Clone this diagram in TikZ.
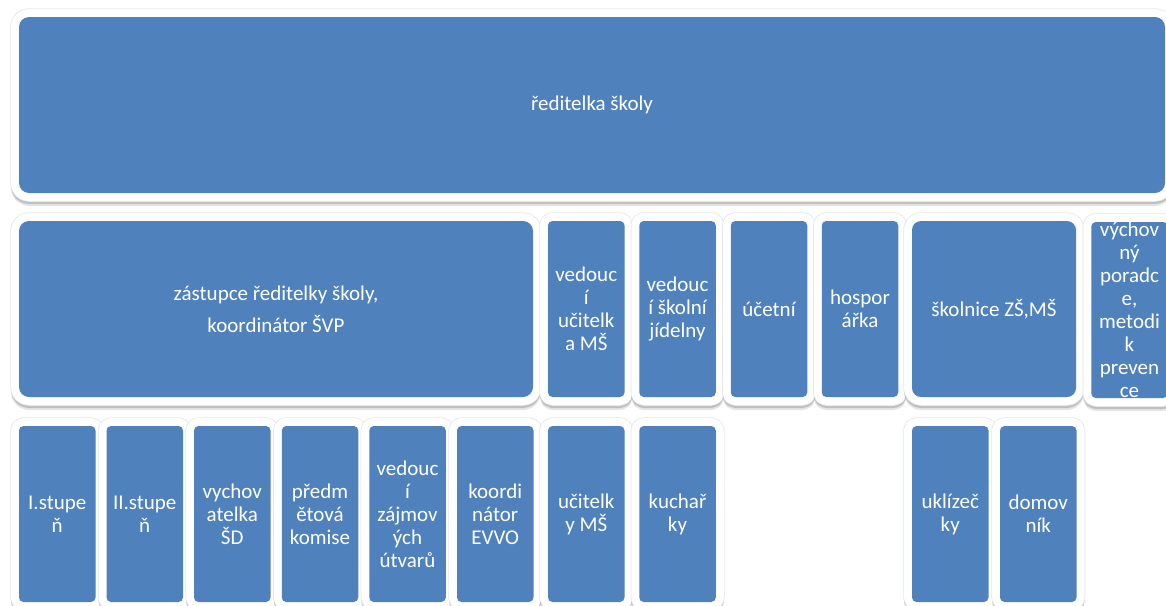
\documentclass[tikz,border=0pt]{standalone}
\usepackage{fontspec}
\setmainfont{Carlito}
\definecolor{boxblue}{RGB}{79,129,189}
\tikzset{
  orgbox/.style={rectangle, fill=boxblue, text=white, align=center, inner sep=0pt,
    font=\fontsize{21}{23}\selectfont, line join=round,
    preaction={draw=black, draw opacity=0.10, line width=16pt, transform canvas={yshift=-5pt}},
    preaction={draw=black, draw opacity=0.16, line width=16pt, transform canvas={yshift=-3pt}},
    preaction={draw=black!10, line width=17.5pt},
    preaction={draw=white, line width=16pt}},
  small/.style={orgbox, minimum width=76.5pt, minimum height=176pt, rounded corners=4.5pt},
  big/.style={orgbox, minimum height=176pt, rounded corners=10pt},
  cliptext/.style={fill=none, draw=none, text=white, align=center, inner sep=0pt,
    font=\fontsize{21}{23}\selectfont}
}
\begin{document}
\begin{tikzpicture}[x=1pt, y=-1pt]
\clip (0,0) rectangle (1166,605);
\fill[white] (0,0) rectangle (1166,605);
% top
\node[big, minimum width=1146pt] (dir) at (592,105) {ředitelka školy};
% row 2
\node[big, minimum width=514pt] (zast) at (276,309) {zástupce ředitelky školy,\\[9pt]koordinátor ŠVP};
\node[small] (vum) at (586.25,309) {vedouc\\í\\učitelk\\a MŠ};
\node[small] (vsj) at (677.5,309) {vedouc\\í školní\\jídelny};
\node[small] (uct) at (769,309) {účetní};
\node[small] (hosp) at (860,309) {hospor\\ářka};
\node[orgbox, minimum width=164pt, minimum height=176pt, rounded corners=9pt] (skol) at (994,309) {školnice ZŠ,MŠ};
\node[small, path picture={\node[cliptext] at (path picture bounding box.center) {výchov\\ný\\poradc\\e,\\metodi\\k\\preven\\ce};}] (vp) at (1129.5,310) {};
% row 3
\node[small] (s1) at (57.25,514) {I.stupe\\ň};
\node[small] (s2) at (144.75,514) {II.stupe\\ň};
\node[small] (vych) at (232.25,514) {vychov\\atelka\\ŠD};
\node[small] (pk) at (320,514) {předm\\ětová\\komise};
\node[small] (vzu) at (407.5,514) {vedouc\\í\\zájmov\\ých\\útvarů};
\node[small] (evvo) at (495.25,514) {koordi\\nátor\\EVVO};
\node[small] (ums) at (586.25,514) {učitelk\\y MŠ};
\node[small] (kuch) at (677.5,514) {kuchař\\ky};
\node[small] (ukl) at (950.25,514) {uklízeč\\ky};
\node[small] (dom) at (1038.25,514) {domov\\ník};
\end{tikzpicture}
\end{document}
